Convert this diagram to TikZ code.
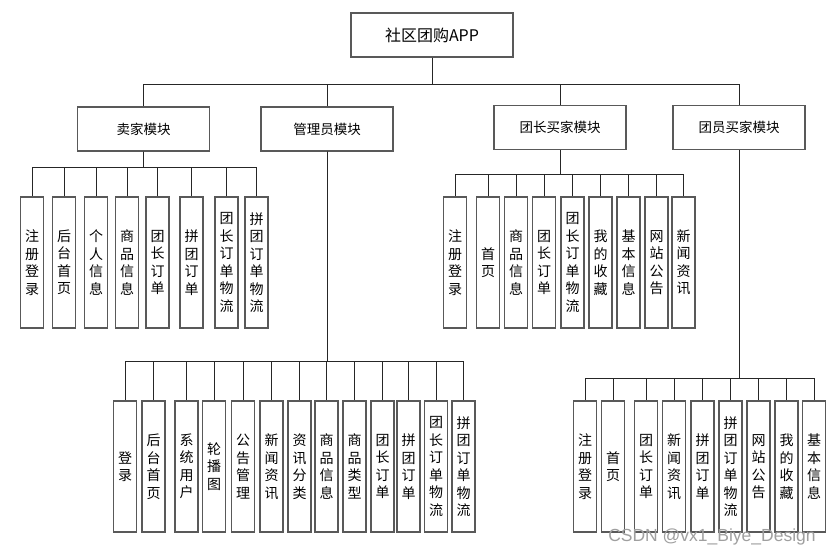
\documentclass[tikz,border=0pt]{standalone}
\usepackage{fontspec}
\setmainfont{Noto Sans CJK SC}
\newfontfamily\latinfont{Liberation Sans}

\begin{document}
\begin{tikzpicture}[x=1pt, y=-1pt,
    box/.style={rectangle, draw=black!65, line width=1.1pt, fill=white, minimum width=132pt, minimum height=44pt, align=center, font=\fontsize{13.5}{16}\selectfont},
    rootbox/.style={box, minimum width=162pt, font=\fontsize{16}{18}\selectfont},
    leaf/.style={rectangle, draw=black!65, line width=1.1pt, fill=white, minimum width=23pt, minimum height=131pt, inner sep=0pt, align=center, font=\fontsize{14}{17.5}\selectfont},
    link/.style={draw=black!85, line width=0.9pt}
]
    \useasboundingbox[fill=white] (0,0) rectangle (836,555);

    % Root
    \node[rootbox] (app) at (432, 35) {社区团购APP};

    % Modules
    \node[box] (seller) at (143.5, 129) {卖家模块};
    \node[box] (admin) at (327, 129) {管理员模块};
    \node[box] (leader) at (560, 127.5) {团长买家模块};
    \node[box] (member) at (739, 127.5) {团员买家模块};

    % Seller functions
    \node[leaf] (s1) at (32, 262.5) {注\\册\\登\\录};
    \node[leaf] (s2) at (64, 262.5) {后\\台\\首\\页};
    \node[leaf] (s3) at (96, 262.5) {个\\人\\信\\息};
    \node[leaf] (s4) at (127, 262.5) {商\\品\\信\\息};
    \node[leaf] (s5) at (157.5, 262.5) {团\\长\\订\\单};
    \node[leaf] (s6) at (191.5, 262.5) {拼\\团\\订\\单};
    \node[leaf] (s7) at (226.5, 262.5) {团\\长\\订\\单\\物\\流};
    \node[leaf] (s8) at (256.5, 262.5) {拼\\团\\订\\单\\物\\流};

    % Admin functions
    \node[leaf] (m1) at (125, 466.5) {登\\录};
    \node[leaf] (m2) at (153.5, 466.5) {后\\台\\首\\页};
    \node[leaf] (m3) at (186.5, 466.5) {系\\统\\用\\户};
    \node[leaf] (m4) at (214, 466.5) {轮\\播\\图};
    \node[leaf] (m5) at (243, 466.5) {公\\告\\管\\理};
    \node[leaf] (m6) at (271.5, 466.5) {新\\闻\\资\\讯};
    \node[leaf] (m7) at (299.5, 466.5) {资\\讯\\分\\类};
    \node[leaf] (m8) at (326.5, 466.5) {商\\品\\信\\息};
    \node[leaf] (m9) at (354.5, 466.5) {商\\品\\类\\型};
    \node[leaf] (m10) at (382.5, 466.5) {团\\长\\订\\单};
    \node[leaf] (m11) at (408.5, 466.5) {拼\\团\\订\\单};
    \node[leaf] (m12) at (436, 466.5) {团\\长\\订\\单\\物\\流};
    \node[leaf] (m13) at (463.5, 466.5) {拼\\团\\订\\单\\物\\流};

    % Leader buyer functions
    \node[leaf] (l1) at (455, 262.5) {注\\册\\登\\录};
    \node[leaf] (l2) at (488, 262.5) {首\\页};
    \node[leaf] (l3) at (516, 262.5) {商\\品\\信\\息};
    \node[leaf] (l4) at (544, 262.5) {团\\长\\订\\单};
    \node[leaf] (l5) at (572.5, 262.5) {团\\长\\订\\单\\物\\流};
    \node[leaf] (l6) at (600.5, 262.5) {我\\的\\收\\藏};
    \node[leaf] (l7) at (628.5, 262.5) {基\\本\\信\\息};
    \node[leaf] (l8) at (656.5, 262.5) {网\\站\\公\\告};
    \node[leaf] (l9) at (683.5, 262.5) {新\\闻\\资\\讯};

    % Member buyer functions
    \node[leaf] (t1) at (585, 466.5) {注\\册\\登\\录};
    \node[leaf] (t2) at (613, 466.5) {首\\页};
    \node[leaf] (t3) at (646, 466.5) {团\\长\\订\\单};
    \node[leaf] (t4) at (674, 466.5) {新\\闻\\资\\讯};
    \node[leaf] (t5) at (702.5, 466.5) {拼\\团\\订\\单};
    \node[leaf] (t6) at (730.5, 466.5) {拼\\团\\订\\单\\物\\流};
    \node[leaf] (t7) at (758.5, 466.5) {网\\站\\公\\告};
    \node[leaf] (t8) at (786.5, 466.5) {我\\的\\收\\藏};
    \node[leaf] (t9) at (814, 466.5) {基\\本\\信\\息};

    % Watermark
    \node[text=gray!75, font=\latinfont\fontsize{17.5}{17.5}\selectfont] (mark) at (712, 537) {CSDN @vx1\_Biye\_Design};

    % Links
    \draw[link] (app.south) -- ++(0,27) -| (seller.north);
    \draw[link] (app.south) -- ++(0,27) -| (admin.north);
    \draw[link] (app.south) -- ++(0,27) -| (leader.north);
    \draw[link] (app.south) -- ++(0,27) -| (member.north);

    \draw[link] (seller.south) -- ++(0,16) -| (s1.north);
    \draw[link] (seller.south) -- ++(0,16) -| (s2.north);
    \draw[link] (seller.south) -- ++(0,16) -| (s3.north);
    \draw[link] (seller.south) -- ++(0,16) -| (s4.north);
    \draw[link] (seller.south) -- ++(0,16) -| (s5.north);
    \draw[link] (seller.south) -- ++(0,16) -| (s6.north);
    \draw[link] (seller.south) -- ++(0,16) -| (s7.north);
    \draw[link] (seller.south) -- ++(0,16) -| (s8.north);

    \draw[link] (admin.south) -- ++(0,210) -| (m1.north);
    \draw[link] (admin.south) -- ++(0,210) -| (m2.north);
    \draw[link] (admin.south) -- ++(0,210) -| (m3.north);
    \draw[link] (admin.south) -- ++(0,210) -| (m4.north);
    \draw[link] (admin.south) -- ++(0,210) -| (m5.north);
    \draw[link] (admin.south) -- ++(0,210) -| (m6.north);
    \draw[link] (admin.south) -- ++(0,210) -| (m7.north);
    \draw[link] (admin.south) -- ++(0,210) -| (m8.north);
    \draw[link] (admin.south) -- ++(0,210) -| (m9.north);
    \draw[link] (admin.south) -- ++(0,210) -| (m10.north);
    \draw[link] (admin.south) -- ++(0,210) -| (m11.north);
    \draw[link] (admin.south) -- ++(0,210) -| (m12.north);
    \draw[link] (admin.south) -- ++(0,210) -| (m13.north);

    \draw[link] (leader.south) -- ++(0,24) -| (l1.north);
    \draw[link] (leader.south) -- ++(0,24) -| (l2.north);
    \draw[link] (leader.south) -- ++(0,24) -| (l3.north);
    \draw[link] (leader.south) -- ++(0,24) -| (l4.north);
    \draw[link] (leader.south) -- ++(0,24) -| (l5.north);
    \draw[link] (leader.south) -- ++(0,24) -| (l6.north);
    \draw[link] (leader.south) -- ++(0,24) -| (l7.north);
    \draw[link] (leader.south) -- ++(0,24) -| (l8.north);
    \draw[link] (leader.south) -- ++(0,24) -| (l9.north);

    \draw[link] (member.south) -- ++(0,228) -| (t1.north);
    \draw[link] (member.south) -- ++(0,228) -| (t2.north);
    \draw[link] (member.south) -- ++(0,228) -| (t3.north);
    \draw[link] (member.south) -- ++(0,228) -| (t4.north);
    \draw[link] (member.south) -- ++(0,228) -| (t5.north);
    \draw[link] (member.south) -- ++(0,228) -| (t6.north);
    \draw[link] (member.south) -- ++(0,228) -| (t7.north);
    \draw[link] (member.south) -- ++(0,228) -| (t8.north);
    \draw[link] (member.south) -- ++(0,228) -| (t9.north);
\end{tikzpicture}
\end{document}
